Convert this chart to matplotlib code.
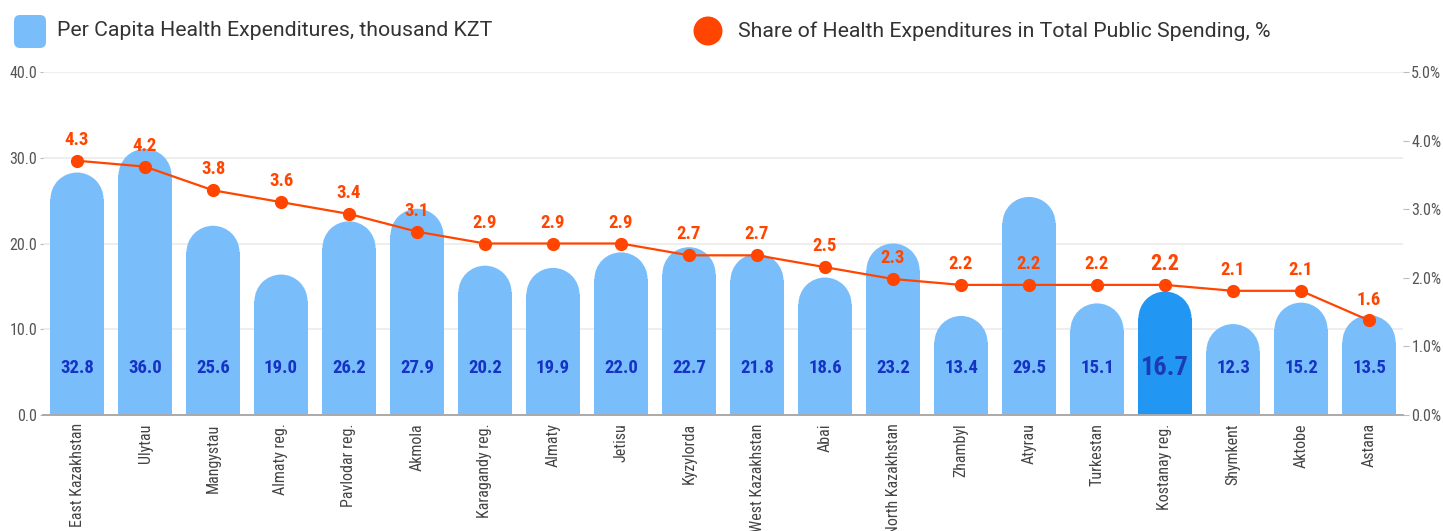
import matplotlib.pyplot as plt
from matplotlib.patches import Rectangle, Ellipse, FancyBboxPatch, Circle
from matplotlib import font_manager
import numpy as np

plt.rcParams['font.family'] = ['Roboto', 'DejaVu Sans']

regions = ["East Kazakhstan", "Ulytau", "Mangystau", "Almaty reg.", "Pavlodar reg.",
           "Akmola", "Karagandy reg.", "Almaty", "Jetisu", "Kyzylorda",
           "West Kazakhstan", "Abai", "North Kazakhstan", "Zhambyl", "Atyrau",
           "Turkestan", "Kostanay reg.", "Shymkent", "Aktobe", "Astana"]
per_capita = [32.8, 36.0, 25.6, 19.0, 26.2, 27.9, 20.2, 19.9, 22.0, 22.7,
              21.8, 18.6, 23.2, 13.4, 29.5, 15.1, 16.7, 12.3, 15.2, 13.5]
share = [4.3, 4.2, 3.8, 3.6, 3.4, 3.1, 2.9, 2.9, 2.9, 2.7,
         2.7, 2.5, 2.3, 2.2, 2.2, 2.2, 2.2, 2.1, 2.1, 1.6]
left_ticks = [0, 10, 20, 30, 40]
right_ticks = [0, 1, 2, 3, 4, 5]
highlight = "Kostanay reg."

bar_color = "#79BEFB"
hi_color = "#2196F3"
line_color = "#FF4500"
label_blue = "#1533C4"
tick_grey = "#555555"

# narrow face for numbers and region names, if one is around
names = {f.name for f in font_manager.fontManager.ttflist}
narrow = None
for cand in ["Roboto Condensed", "Liberation Sans Narrow", "DejaVu Sans Condensed"]:
    if cand in names:
        narrow = cand
        break
if narrow is None:
    narrow_kw = dict(family=['DejaVu Sans'], stretch='condensed')
else:
    narrow_kw = dict(family=[narrow, 'DejaVu Sans'])

# axes run a bit past the last tick label
stretch = 1.16

fig = plt.figure(figsize=(14.43, 5.31), dpi=100)
ax = fig.add_axes([43 / 1443, 1 - 415 / 531, 1360 / 1443, 343 / 531])
ax2 = ax.twinx()

x = np.arange(len(regions))
width = 0.78
ax.set_xlim(-0.5, len(regions) - 0.5)
ax.set_ylim(0, left_ticks[-1] * stretch)
ax2.set_ylim(0, right_ticks[-1] * stretch)

# radius of the rounded bar tops in data units
p0 = ax.transData.transform((0, 0))
p1 = ax.transData.transform((width, 1))
ry = (p1[0] - p0[0]) / 2 / (p1[1] - p0[1])

for xi, name, v in zip(x, regions, per_capita):
    c = hi_color if name == highlight else bar_color
    ax.add_patch(Rectangle((xi - width / 2, 0), width, v - ry, color=c, lw=0, zorder=2))
    ax.add_patch(Ellipse((xi, v - ry), width, 2 * ry, color=c, lw=0, zorder=2))
    if name == highlight:
        ax.text(xi, 6.3, f"{v:.1f}", ha='center', va='center', fontsize=19,
                fontweight='bold', color="#1A3BB5", zorder=3, **narrow_kw)
    else:
        ax.text(xi, 6.3, f"{v:.1f}", ha='center', va='center', fontsize=13.5,
                fontweight='bold', color=label_blue, zorder=3, **narrow_kw)

ax.set_yticks([t * stretch for t in left_ticks])
ax.set_yticklabels([f"{t:.1f}" for t in left_ticks], **narrow_kw)
ax2.set_yticks([t * stretch for t in right_ticks])
ax2.set_yticklabels([f"{t:.1f}%" for t in right_ticks], **narrow_kw)
ax.grid(axis='y', color="#EBEBEB", lw=1.2, zorder=0)
ax.set_axisbelow(True)

ax.set_xticks(x)
ax.set_xticklabels(regions, rotation=90, ha='center', va='top', fontsize=11.5,
                   color="#444444", **narrow_kw)
ax.tick_params(axis='x', length=0, pad=6)
ax.tick_params(axis='y', length=2, color="#BBBBBB", labelsize=11.5, labelcolor=tick_grey, pad=2)
ax2.tick_params(axis='y', length=4, color="#BBBBBB", labelsize=11.5, labelcolor=tick_grey, pad=2)

for a in (ax, ax2):
    for s in ['top', 'left', 'right']:
        a.spines[s].set_visible(False)
    a.spines['bottom'].set_color("#AAAAAA")
    a.spines['bottom'].set_linewidth(1.2)

ax2.plot(x, share, color=line_color, lw=1.6, marker='o', ms=8.5, zorder=4)
for xi, name, s in zip(x, regions, share):
    big = name == highlight
    ax2.annotate(f"{s:.1f}", (xi, s), xytext=(0, 15), textcoords='offset points',
                 ha='center', va='center', fontsize=16 if big else 13.5,
                 fontweight='bold', color=line_color, **narrow_kw)

# legend drawn by hand at the top
fig.add_artist(FancyBboxPatch((0.20, 4.89), 0.20, 0.21, boxstyle="round,pad=0.06",
                              color=bar_color, lw=0, transform=fig.dpi_scale_trans))
fig.text(57 / 1443, 1 - 31 / 531, "Per Capita Health Expenditures, thousand KZT",
         ha='left', va='center', fontsize=15.3, color="#333333")
fig.add_artist(Circle((7.08, 5.00), 0.145, color=line_color, lw=0,
                      transform=fig.dpi_scale_trans))
fig.text(738 / 1443, 1 - 31 / 531, "Share of Health Expenditures in Total Public Spending, %",
         ha='left', va='center', fontsize=15.3, color="#333333")

plt.savefig("out.png", dpi=100)
